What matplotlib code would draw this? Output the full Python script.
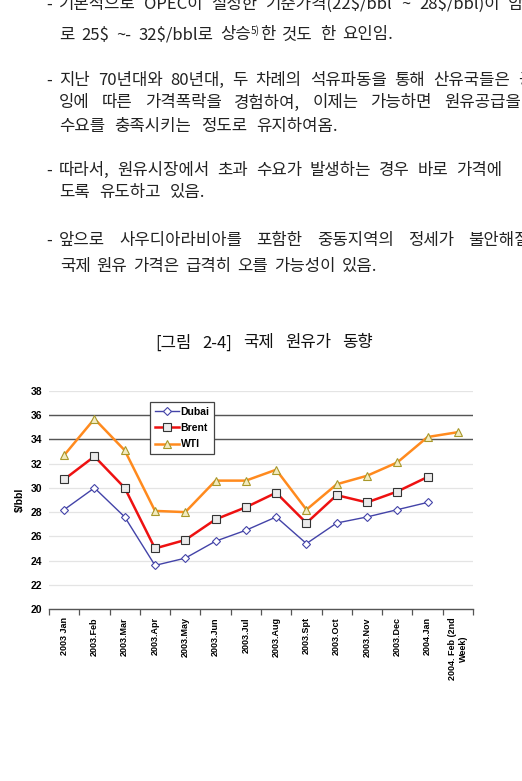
import matplotlib
matplotlib.use("Agg")
import matplotlib.pyplot as plt
import numpy as np

W, H = 522, 781

months = ["2003 Jan", "2003.Feb", "2003.Mar", "2003.Apr", "2003.May", "2003.Jun",
          "2003.Jul", "2003.Aug", "2003.Spt", "2003.Oct", "2003.Nov", "2003.Dec",
          "2004.Jan", "2004. Feb (2nd\nWeek)"]
dubai = [28.2, 30.0, 27.6, 23.6, 24.2, 25.6, 26.5, 27.6, 25.4, 27.1, 27.6, 28.2, 28.8]
brent = [30.7, 32.6, 30.0, 25.0, 25.7, 27.4, 28.4, 29.6, 27.1, 29.4, 28.8, 29.7, 30.9]
wti = [32.7, 35.7, 33.1, 28.1, 28.0, 30.6, 30.6, 31.5, 28.2, 30.3, 31.0, 32.1, 34.2, 34.6]
yticks = list(range(20, 40, 2))

title = "[그림 2-4] 국제 원유가 동향"
body = [
    "- 기본적으로 OPEC이 설정한 기준가격(22$/bbl ~ 28$/bbl)이 암",
    "로 25$ ~- 32$/bbl로 상승5)한 것도 한 요인임.",
    "- 지난 70년대와 80년대, 두 차례의 석유파동을 통해 산유국들은 공급과",
    "잉에 따른 가격폭락을 경험하여, 이제는 가능하면 원유공급을",
    "수요를 충족시키는 정도로 유지하여옴.",
    "- 따라서, 원유시장에서 초과 수요가 발생하는 경우 바로 가격에",
    "도록 유도하고 있음.",
    "- 앞으로 사우디아라비아를 포함한 중동지역의 정세가 불안해질",
    "국제 원유 가격은 급격히 오를 가능성이 있음.",
]

kr = ["Noto Sans CJK KR", "DejaVu Sans"]
fig = plt.figure(figsize=(W / 100, H / 100), dpi=100)
renderer = fig.canvas.get_renderer()


def put_line(y, text, x0, x1=None, last_left=None, size=12, dash_x=None, color="#222222"):
    words = text.split(" ")
    if words[0] == "-":
        fig.text(dash_x / W, 1 - y / H, "-", fontsize=size, family=kr,
                 va="center", ha="left", color=color)
        words = words[1:]
    arts = []
    for w in words:
        # superscript note like 상승5)한
        if "5)" in w:
            a, b = w.split("5)")
            segs = [(a, size, 0), ("5)", size * 0.6, 4), (b, size, 0)]
        else:
            segs = [(w, size, 0)]
        parts = []
        for s, fs, dy in segs:
            t = fig.text(0, 1 - (y - dy) / H, s.replace("$", r"\$"), fontsize=fs,
                         family=kr, va="center", ha="left", color=color)
            parts.append((t, t.get_window_extent(renderer).width))
        arts.append(parts)
    widths = [sum(p[1] for p in parts) for parts in arts]
    if last_left is not None:
        x1 = last_left + widths[-1]
    if x1 is None or len(arts) == 1:
        gap = size * 0.35
    else:
        gap = (x1 - x0 - sum(widths)) / (len(arts) - 1)
    x = x0
    for parts, wd in zip(arts, widths):
        xx = x
        for t, pw in parts:
            t.set_x(xx / W)
            xx += pw
        x += wd + gap


put_line(4, body[0], 59, last_left=508, dash_x=46)
put_line(35, body[1], 59, x1=393)
put_line(80, body[2], 59, last_left=518, dash_x=46)
put_line(103, body[3], 59, x1=521)
put_line(126, body[4], 59, x1=338)
put_line(170, body[5], 59, x1=502, dash_x=46)
put_line(193, body[6], 59, x1=205)
put_line(240, body[7], 59, last_left=468, dash_x=46)
put_line(266, body[8], 60, x1=377)
put_line(343, title, 155, x1=373, size=12, color="#111111")

# chart
ax = fig.add_axes([49 / W, 1 - 609 / H, 424 / W, 218 / H])
x = np.arange(len(months))
ax.plot(x[:len(dubai)], dubai, color="#4343A8", lw=1.0, marker="D", ms=3.8,
        mfc="white", mec="#4343A8", mew=0.8, label="Dubai", zorder=3)
ax.plot(x[:len(brent)], brent, color="#EE1111", lw=1.8, marker="s", ms=5.5,
        mfc="#EBEBEB", mec="#333333", mew=0.8, label="Brent", zorder=3)
ax.plot(x, wti, color="#FF8A1E", lw=1.8, marker="^", ms=5.5,
        mfc="#F3EBC0", mec="#A8982A", mew=0.8, label="WTI", zorder=3)

ax.set_xlim(-0.5, len(months) - 0.5)
ax.set_ylim(20, 38)
ax.set_yticks(yticks)
ax.yaxis.grid(True, color="#E4E4E4", lw=0.9)
for v in [34, 36]:
    ax.axhline(v, color="#555555", lw=1.0, zorder=1)
ax.set_axisbelow(True)
for s in ["left", "top", "right"]:
    ax.spines[s].set_visible(False)
ax.spines["bottom"].set_color("#555555")
ax.spines["bottom"].set_linewidth(1.0)

ax.set_xticks(x)
ax.set_xticklabels(months, rotation=90, fontsize=6.5, fontweight="bold",
                   family="Liberation Sans", multialignment="center")
ax.set_xticks(np.arange(-0.5, len(months), 1), minor=True)
ax.tick_params(axis="x", which="major", length=0, pad=6)
ax.tick_params(axis="x", which="minor", length=4, color="#555555", width=0.9)
ax.tick_params(axis="y", length=0, pad=5, labelsize=7.5)
for lab in ax.get_yticklabels():
    lab.set_fontweight("bold")
    lab.set_family("Liberation Sans")

fig.text(20 / W, 1 - 500 / H, r"\$/bbl", rotation=90, ha="center", va="center",
         fontsize=7.5, fontweight="bold", family="Liberation Sans")

leg = ax.legend(loc="upper left", bbox_to_anchor=(150 / W, 1 - 402 / H),
                bbox_transform=fig.transFigure, borderaxespad=0, fancybox=False,
                framealpha=1, edgecolor="#444444", handlelength=2.3,
                handletextpad=0.2, labelspacing=0.6, borderpad=0.45,
                prop={"family": "Liberation Sans", "weight": "bold", "size": 7.5})
leg.get_frame().set_linewidth(0.9)
leg.set_zorder(5)

fig.savefig("out.png", dpi=100)
